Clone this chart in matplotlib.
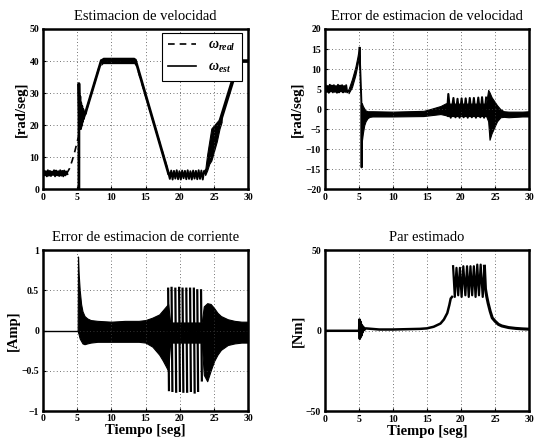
import matplotlib
matplotlib.use("Agg")
import matplotlib.pyplot as plt
from matplotlib.lines import Line2D

plt.rcParams['font.family'] = ['Liberation Serif', 'DejaVu Serif']
plt.rcParams['mathtext.fontset'] = 'custom'
plt.rcParams['mathtext.rm'] = 'Liberation Serif'
plt.rcParams['mathtext.it'] = 'Liberation Serif:italic:bold'
plt.rcParams['mathtext.bf'] = 'Liberation Serif:bold'

# ---------------- Panel 1: speed estimation ----------------
real_t = [0, 3.5, 3.9, 4.3, 4.7, 5.1, 8.5, 13.5, 18.4, 23.6, 28.6, 30]
real_v = [5, 5, 6.5, 9.0, 12.0, 15.5, 40, 40, 5, 5, 40, 40]
real_noise_t = [0.0, 0.15, 0.3, 0.45, 0.6, 0.75, 0.9, 1.05, 1.2, 1.35, 1.5, 1.65, 1.8,
                1.95, 2.1, 2.25, 2.4, 2.55, 2.7, 2.85, 3.0, 3.15, 3.3, 3.45, 3.6]
real_noise_v = [4.2, 5.9, 4.4, 5.7, 4.1, 6.0, 4.3, 5.8, 4.2, 5.6, 4.5, 6.0, 4.1,
                5.9, 4.4, 5.7, 4.2, 6.0, 4.3, 5.8, 4.1, 5.9, 4.4, 5.6, 4.8]
est_t = [5.28, 5.28, 5.36, 5.42, 5.48, 5.55, 5.62, 5.7, 5.78, 5.86, 5.95, 6.05, 6.2, 6.4,
         8.55, 13.55, 18.35]
est_v = [0, 33, 22, 29, 19, 27, 20, 26, 21, 25, 22, 24, 23.5, 25, 40.2, 40.2, 5]
est_low_t = [18.35, 18.55, 18.75, 18.95, 19.15, 19.35, 19.55, 19.75, 19.95, 20.15, 20.35,
             20.55, 20.75, 20.95, 21.15, 21.35, 21.55, 21.75, 21.95, 22.15, 22.35, 22.55,
             22.75, 22.95, 23.15, 23.35, 23.55, 23.75]
est_low_v = [5.0, 3.3, 5.9, 3.1, 5.8, 3.4, 6.0, 3.2, 5.7, 3.1, 5.9, 3.5, 5.8, 3.2, 6.0,
             3.3, 5.7, 3.1, 5.9, 3.4, 5.8, 3.2, 6.0, 3.3, 5.9, 3.1, 5.8, 5.0]
plateau_t = [8.5, 8.8, 13.3, 13.6]
plateau_lo = [38.6, 39.2, 39.2, 38.6]
plateau_hi = [40.8, 41.2, 41.2, 40.8]
rise_t = [23.7, 24.0, 24.3, 24.6, 25.0, 25.4, 25.8, 26.1]
rise_lo = [4.5, 6.0, 8.0, 9.0, 12.0, 15.0, 19.0, 21.0]
rise_hi = [6.0, 11.0, 15.0, 19.0, 20.0, 21.0, 22.0, 22.5]
est_end_t = [26.0, 28.6, 30.0]
est_end_v = [22.0, 40.0, 40.0]

# ---------------- Panel 2: speed estimation error ----------------
err_noise_t = [0.0, 0.15, 0.3, 0.45, 0.6, 0.75, 0.9, 1.05, 1.2, 1.35, 1.5, 1.65, 1.8,
               1.95, 2.1, 2.25, 2.4, 2.55, 2.7, 2.85, 3.0, 3.15, 3.3, 3.5]
err_noise_v = [4.2, 6.0, 4.3, 5.8, 4.1, 6.1, 4.4, 5.9, 4.2, 6.0, 4.3, 5.8, 4.1,
               6.1, 4.2, 5.9, 4.4, 6.0, 4.2, 5.8, 4.3, 6.0, 4.2, 4.6]
err_ramp_t = [3.5, 4.0, 4.5, 4.8, 5.05, 5.15]
err_ramp_lo = [4.0, 5.5, 8.5, 11.0, 13.5, 10.0]
err_ramp_hi = [5.0, 7.5, 10.5, 13.0, 15.5, 15.5]
err_drop_t = [5.1, 5.3, 5.38, 5.42, 5.46, 5.5]
err_drop_v = [15.3, 6.0, 2.0, -14.5, 1.0, -2.0]
err_band_t = [5.45, 5.6, 5.8, 6.0, 6.3, 6.6, 7.0, 10.0, 14.5, 15.0, 16.0, 17.0, 17.8,
              18.0, 23.7]
err_band_lo = [-8.0, -6.0, -4.0, -3.0, -2.2, -1.9, -1.8, -1.8, -1.7, -1.6, -1.4, -1.2,
               -1.5, -1.7, -1.7]
err_band_hi = [1.5, 0.8, 0.2, -0.3, -0.5, -0.5, -0.5, -0.6, -0.4, -0.2, 0.3, 0.8, 1.5,
               1.4, 1.4]
err_sp_t = [18.0, 18.15, 18.5, 18.9, 19.2, 19.5, 19.8, 20.1, 20.4, 20.7, 21.0, 21.3, 21.6,
            21.9, 22.2, 22.55, 22.85, 23.1, 23.4, 23.7]
err_sp_v = [0.0, 3.8, -2.1, 2.8, -2.0, 2.6, -2.1, 2.7, -2.0, 2.7, -2.1, 2.8, -2.0,
            2.8, -2.1, 2.9, -2.0, 3.0, -2.1, 2.9]
err_ev_t = [23.7, 24.0, 24.2, 24.5, 24.9, 25.3, 25.8, 26.3, 27.0, 28.0, 29.0, 30.0]
err_ev_lo = [-1.7, -3.0, -7.6, -6.0, -4.5, -3.0, -2.0, -1.9, -2.0, -1.9, -1.8, -1.8]
err_ev_hi = [1.5, 4.8, 4.2, 3.0, 2.0, 1.0, 0.0, -0.5, -0.6, -0.6, -0.6, -0.5]

# ---------------- Panel 3: current estimation error ----------------
cur_flat_t = [0.0, 5.1]
cur_flat_v = [0.0, 0.0]
cur_env_t = [5.1, 5.15, 5.25, 5.4, 5.6, 5.8, 6.1, 6.5, 7.0, 8.0, 10.0, 12.0, 14.0, 15.0,
             16.0, 17.0, 17.5, 18.0, 18.3, 18.6, 23.2, 23.5, 24.0, 24.5, 25.0, 25.5, 26.0,
             27.0, 28.0, 29.0, 30.0]
cur_env_hi = [0.0, 0.92, 0.7, 0.5, 0.33, 0.24, 0.18, 0.15, 0.13, 0.12, 0.11, 0.12, 0.12,
              0.13, 0.16, 0.2, 0.25, 0.3, 0.33, 0.1, 0.1, 0.3, 0.34, 0.33, 0.28, 0.22,
              0.18, 0.14, 0.12, 0.11, 0.11]
cur_env_lo = [0.0, -0.02, -0.05, -0.1, -0.13, -0.16, -0.17, -0.16, -0.15, -0.14, -0.14,
              -0.14, -0.14, -0.15, -0.2, -0.3, -0.37, -0.45, -0.5, -0.15, -0.15, -0.55,
              -0.63, -0.5, -0.38, -0.3, -0.24, -0.18, -0.16, -0.15, -0.15]
cur_sp_t = [18.3, 18.8, 19.35, 19.9, 20.4, 20.95, 21.5, 22.05, 22.55, 23.1]
cur_sp_hi = [0.52, 0.53, 0.52, 0.53, 0.52, 0.52, 0.52, 0.52, 0.5, 0.5]
cur_sp_lo = [-0.74, -0.75, -0.76, -0.75, -0.76, -0.76, -0.75, -0.77, -0.75, -0.62]

# ---------------- Panel 4: estimated torque ----------------
tq_t = [0.0, 5.05, 5.1, 5.15, 5.2, 5.25, 5.3, 5.38, 5.45, 5.55, 5.65, 5.8, 6.0, 8.0, 10.0,
        12.0, 14.0, 15.0, 16.0, 17.0, 17.5, 18.0, 18.3, 18.5, 18.7]
tq_v = [0.0, 0.0, 7.0, -5.0, 6.0, -4.0, 5.0, -3.0, 3.5, -1.0, 2.5, 0.5, 1.5, 0.8, 0.8,
        1.0, 1.2, 1.5, 2.5, 4.5, 7.0, 11.0, 16.0, 20.0, 21.0]
tq_sp_t = [18.85, 19.1, 19.35, 19.6, 19.85, 20.1, 20.35, 20.65, 20.9, 21.15, 21.4, 21.65,
           21.9, 22.15, 22.4, 22.65, 22.9, 23.2, 23.45]
tq_sp_v = [40, 21, 39, 22, 39, 21, 40, 22, 40, 21, 40, 22, 40, 21, 41, 22, 41, 21, 40]
tq_end_t = [23.45, 23.6, 23.8, 24.0, 24.3, 24.6, 25.0, 25.5, 26.0, 27.0, 28.0, 29.0, 30.0]
tq_end_v = [40, 26, 21, 17, 12, 8, 6, 4, 3, 2, 1.5, 1.2, 1.0]

xticks = [0, 5, 10, 15, 20, 25, 30]

fig = plt.figure(figsize=(5.36, 4.41), dpi=100)
ax1 = fig.add_axes([0.0797, 0.5703, 0.3836, 0.364])
ax2 = fig.add_axes([0.6058, 0.5703, 0.3812, 0.364])
ax3 = fig.add_axes([0.0797, 0.068, 0.3836, 0.365])
ax4 = fig.add_axes([0.6058, 0.0669, 0.3812, 0.366])

K = 'black'
LW = 1.4


def style(ax, ylim, yticks, ylabels, title, ylabel, xlabel=None):
    ax.set_xlim(0, 30)
    ax.set_ylim(*ylim)
    ax.set_xticks(xticks)
    ax.set_xticklabels([str(v) for v in xticks], fontweight='bold', fontsize=7)
    ax.set_yticks(yticks)
    ax.set_yticklabels(ylabels, fontweight='bold', fontsize=7)
    ax.tick_params(direction='in', length=2.5, width=0.8, pad=2.5)
    ax.grid(True, linestyle=(0, (1, 3)), color='#444444', linewidth=0.6)
    for s in ax.spines.values():
        s.set_linewidth(1.8)
    ax.set_title(title, fontsize=10.5, pad=6.5)
    ax.set_ylabel(ylabel, fontweight='bold', fontsize=10.5, labelpad=1.5)
    if xlabel:
        ax.set_xlabel(xlabel, fontweight='bold', fontsize=10.5, labelpad=0.5)


# Panel 1
ax1.plot(real_t, real_v, color=K, lw=1.2, ls=(0, (4, 3)))
ax1.plot(real_noise_t, real_noise_v, color=K, lw=LW)
ax1.plot(est_t, est_v, color=K, lw=LW + 0.6)
ax1.plot(est_low_t, est_low_v, color=K, lw=LW)
ax1.fill_between(plateau_t, plateau_lo, plateau_hi, color=K, lw=0)
ax1.fill_between(rise_t, rise_lo, rise_hi, color=K, lw=0.8)
ax1.plot(est_end_t, est_end_v, color=K, lw=LW + 1.2)
style(ax1, (0, 50), [0, 10, 20, 30, 40, 50], ['0', '10', '20', '30', '40', '50'],
      'Estimacion de velocidad', '[rad/seg]')
h1 = Line2D([], [], color=K, lw=1.2, ls=(0, (4, 3)))
h2 = Line2D([], [], color=K, lw=1.2)
leg = ax1.legend([h1, h2], [r'$\omega_{\mathit{real}}$', r'$\omega_{\mathit{est}}$'],
                 loc='upper right', bbox_to_anchor=(0.97, 0.975), fontsize=10,
                 fancybox=False, framealpha=1, edgecolor=K, handlelength=2.0,
                 borderpad=0.45, labelspacing=0.55, handletextpad=0.9,
                 borderaxespad=0)
leg.get_frame().set_linewidth(0.8)
leg.set_zorder(10)

# Panel 2
ax2.plot(err_noise_t, err_noise_v, color=K, lw=LW)
ax2.fill_between(err_ramp_t, err_ramp_lo, err_ramp_hi, color=K, lw=0.8)
ax2.plot(err_drop_t, err_drop_v, color=K, lw=LW)
ax2.fill_between(err_band_t, err_band_lo, err_band_hi, color=K, lw=0.8)
ax2.plot(err_sp_t, err_sp_v, color=K, lw=1.5)
ax2.fill_between(err_ev_t, err_ev_lo, err_ev_hi, color=K, lw=0.8)
style(ax2, (-20, 20), list(range(-20, 25, 5)),
      ['\u221220', '\u221215', '\u221210', '\u22125', '0', '5', '10', '15', '20'],
      'Error de estimacion de velocidad', '[rad/seg]')

# Panel 3
ax3.plot(cur_flat_t, cur_flat_v, color=K, lw=1.0)
ax3.fill_between(cur_env_t, cur_env_lo, cur_env_hi, color=K, lw=0.8)
for t, hi, lo in zip(cur_sp_t, cur_sp_hi, cur_sp_lo):
    ax3.plot([t, t + 0.12], [hi, lo], color=K, lw=1.6)
style(ax3, (-1, 1), [-1, -0.5, 0, 0.5, 1], ['\u22121', '\u22120.5', '0', '0.5', '1'],
      'Error de estimacion de corriente', '[Amp]', 'Tiempo [seg]')

# Panel 4
ax4.plot(tq_t, tq_v, color=K, lw=LW + 0.4)
ax4.plot(tq_sp_t, tq_sp_v, color=K, lw=1.6)
ax4.plot(tq_end_t, tq_end_v, color=K, lw=LW + 0.8)
style(ax4, (-50, 50), [-50, 0, 50], ['\u221250', '0', '50'],
      'Par estimado', '[Nm]', 'Tiempo [seg]')

fig.savefig('out.png', dpi=100)
